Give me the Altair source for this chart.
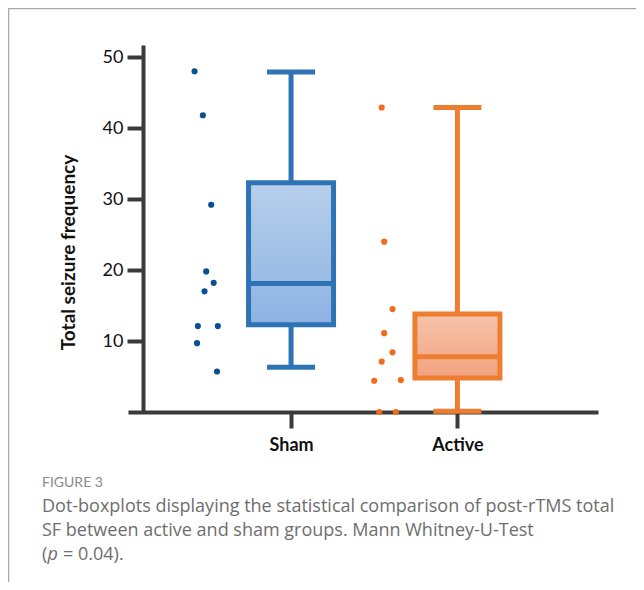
import altair as alt
import pandas as pd

# ---- data ----
groups = ["Sham", "Active"]
group_pos = [1, 2]
box_min = [6.3, 0.1]
box_q1 = [12.3, 4.8]
box_median = [18.1, 7.8]
box_q3 = [32.3, 13.8]
box_max = [47.9, 42.9]

sham_values = [48.0, 41.8, 29.2, 19.8, 18.2, 17.0, 12.1, 12.1, 9.7, 5.7]
sham_xpos = [0.42, 0.47, 0.52, 0.49, 0.535, 0.48, 0.44, 0.56, 0.435, 0.555]
active_values = [42.9, 24.0, 14.5, 11.1, 8.4, 7.1, 4.4, 4.5, 0.0, 0.0]
active_xpos = [1.545, 1.56, 1.61, 1.56, 1.61, 1.545, 1.5, 1.66, 1.53, 1.63]

y_ticks = [10, 20, 30, 40, 50]
y_title = "Total seizure frequency"
fig_label = "FIGURE 3"
caption_lines = [
    "Dot-boxplots displaying the statistical comparison of post-rTMS total",
    "SF between active and sham groups. Mann Whitney-U-Test",
]
caption_last = ["(", "p", "= 0.04)."]

# ---- styling ----
stroke_cols = {"Sham": "#2e74b5", "Active": "#ed7d31"}
dot_cols = {"Sham": "#0b4f8f", "Active": "#f26b1d"}
grad_cols = {"Sham": ("#b7cfeb", "#8db3e2"), "Active": ("#f7c3ab", "#f2a27f")}
AX = "#3a3a3a"
FONT = "Lato"
CAP_FONT = "Open Sans"
CAP_SIZE = 18
CAP_COL = "#6e6e6e"

xs = alt.Scale(domain=[0.05, 2.815], nice=False, zero=False)
ys = alt.Scale(domain=[0, 51.7], nice=False, zero=False)

xaxis = alt.Axis(values=group_pos, labelExpr="datum.value == 1 ? 'Sham' : 'Active'",
                 title=None, domainColor=AX, domainWidth=4, tickColor=AX, tickWidth=4,
                 tickSize=16, labelFont=FONT, labelFontSize=18, labelFontWeight="bold",
                 labelColor="#111", labelPadding=8, grid=False, domainCap="butt")
yaxis = alt.Axis(values=y_ticks, title=y_title, offset=-15, domainColor=AX, domainWidth=4,
                 tickColor=AX, tickWidth=4, tickSize=16, labelFont=FONT, labelFontSize=18,
                 labelColor="#111", labelPadding=4, titleFont=FONT, titleFontSize=19,
                 titleFontWeight="bold", titleColor="#111", titlePadding=24,
                 titleY=207, grid=False)

box_df = pd.DataFrame({"group": groups, "pos": group_pos, "lo": box_min, "q1": box_q1,
                       "med": box_median, "q3": box_q3, "hi": box_max})
pts_df = pd.DataFrame({
    "group": ["Sham"] * len(sham_values) + ["Active"] * len(active_values),
    "xpos": sham_xpos + active_xpos,
    "value": sham_values + active_values,
})

layers = []
for g in groups:
    d = box_df[box_df.group == g]
    c = stroke_cols[g]
    X = alt.X("pos:Q", scale=xs, axis=xaxis)
    layers.append(alt.Chart(d).mark_rule(color=c, strokeWidth=5).encode(
        x=X, y=alt.Y("lo:Q", scale=ys, axis=yaxis), y2="hi:Q"))
    for f in ["lo", "hi"]:
        layers.append(alt.Chart(d).mark_tick(orient="horizontal", size=48, thickness=5,
                                             color=c, opacity=1).encode(
            x=X, y=alt.Y(f + ":Q", scale=ys, axis=yaxis)))
    grad = alt.Gradient(gradient="linear", x1=0, x2=0, y1=0, y2=1,
                        stops=[alt.GradientStop(color=grad_cols[g][0], offset=0),
                               alt.GradientStop(color=grad_cols[g][1], offset=1)])
    layers.append(alt.Chart(d).mark_bar(size=85, fill=grad, stroke=c, strokeWidth=5,
                                        opacity=1).encode(
        x=X, y=alt.Y("q1:Q", scale=ys, axis=yaxis), y2="q3:Q"))
    layers.append(alt.Chart(d).mark_tick(orient="horizontal", size=85, thickness=5,
                                         color=c, opacity=1).encode(
        x=X, y=alt.Y("med:Q", scale=ys, axis=yaxis)))

layers.append(alt.Chart(pts_df).mark_circle(size=38, opacity=1).encode(
    x=alt.X("xpos:Q", scale=xs, axis=xaxis),
    y=alt.Y("value:Q", scale=ys, axis=yaxis),
    color=alt.Color("group:N", scale=alt.Scale(domain=groups,
                                               range=[dot_cols[g] for g in groups]),
                    legend=None)))

# frame lines
FR = "#a8a8a8"
layers.append(alt.Chart(pd.DataFrame({"a": [0]})).mark_rule(color=FR, strokeWidth=1.5).encode(
    x=alt.value(-120), x2=alt.value(520), y=alt.value(-36.5)))
layers.append(alt.Chart(pd.DataFrame({"a": [0]})).mark_rule(color=FR, strokeWidth=1.5).encode(
    x=alt.value(-119.5), y=alt.value(-37), y2=alt.value(540)))

# caption
layers.append(alt.Chart(pd.DataFrame({"t": [fig_label]})).mark_text(
    align="left", baseline="middle", font=FONT, fontSize=14, color="#8a8a8a").encode(
    text="t:N", x=alt.value(-86), y=alt.value(438)))
for i, line in enumerate(caption_lines):
    layers.append(alt.Chart(pd.DataFrame({"t": [line]})).mark_text(
        align="left", baseline="middle", font=CAP_FONT, fontSize=CAP_SIZE,
        color=CAP_COL).encode(
        text="t:N", x=alt.value(-86), y=alt.value(462 + 24 * i)))
last_x = [-86, -80.5, -65]
for j, part in enumerate(caption_last):
    layers.append(alt.Chart(pd.DataFrame({"t": [part]})).mark_text(
        align="left", baseline="middle", font=CAP_FONT, fontSize=CAP_SIZE,
        color=CAP_COL, fontStyle="italic" if part == "p" else "normal").encode(
        text="t:N", x=alt.value(last_x[j]), y=alt.value(510)))

chart = alt.layer(*layers).properties(
    width=470, height=367,
    autosize=alt.AutoSizeParams(type="none"),
    padding={"left": 120, "top": 37, "right": 38, "bottom": 170},
).configure_view(stroke=None).configure_axis(grid=False)

chart.save("out.html", embed_options={"renderer": "svg", "actions": False})
